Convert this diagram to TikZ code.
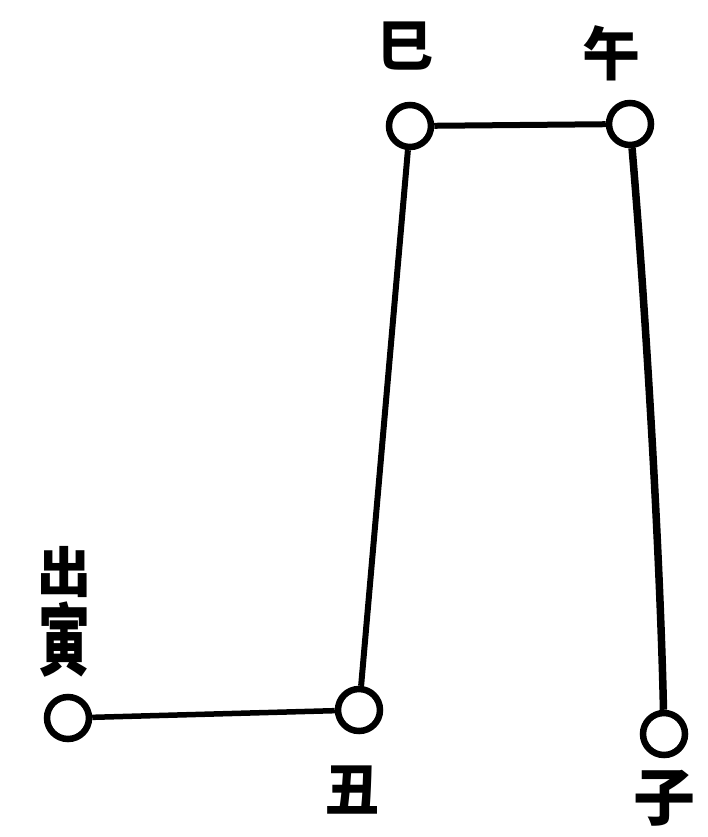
\documentclass[tikz,border=0pt]{standalone}
\usepackage{fontspec}
\newfontfamily\cjk{Noto Sans CJK SC}[BoldFont={* Black}]
\begin{document}
\begin{tikzpicture}[x=1pt,y=-1pt,
  stn/.style={circle,draw=black,line width=6.5pt,minimum size=42pt,inner sep=0pt,fill=white},
  lbl/.style={inner sep=0pt},
  rail/.style={line width=6pt,black}]
\useasboundingbox (0,0) rectangle (707,837);
\node[stn] (si) at (410,126) {};
\node[stn] (wu) at (630,124) {};
\node[stn] (yin) at (68,718) {};
\node[stn] (chou) at (359,710) {};
\node[stn] (zi) at (664,734) {};
\draw[rail] (si) -- (wu);
\draw[rail,line width=5.5pt] (yin) -- (chou);
\draw[rail] (si) -- (chou);
\draw[rail,line width=7.5pt] (wu) .. controls (645,300) and (660,550) .. (zi);
\node[lbl,font=\cjk\bfseries\fontsize{56}{56}\selectfont] (lsi) at (405,46) {巳};
\node[lbl,font=\cjk\bfseries\fontsize{58}{58}\selectfont] (lwu) at (611,53) {午};
\node[lbl,font=\cjk\bfseries\fontsize{54}{54}\selectfont] (lchou) at (352,790) {丑};
\node[lbl,font=\cjk\bfseries\fontsize{62}{62}\selectfont] (lzi) at (664,798) {子};
\node[lbl,font=\cjk\bfseries\fontsize{54}{54}\selectfont] (lchu) at (64,572) {出};
\node[lbl,font=\cjk\bfseries\fontsize{52}{52}\selectfont,yscale=1.5] (lyin) at (64,640) {寅};
\end{tikzpicture}
\end{document}
